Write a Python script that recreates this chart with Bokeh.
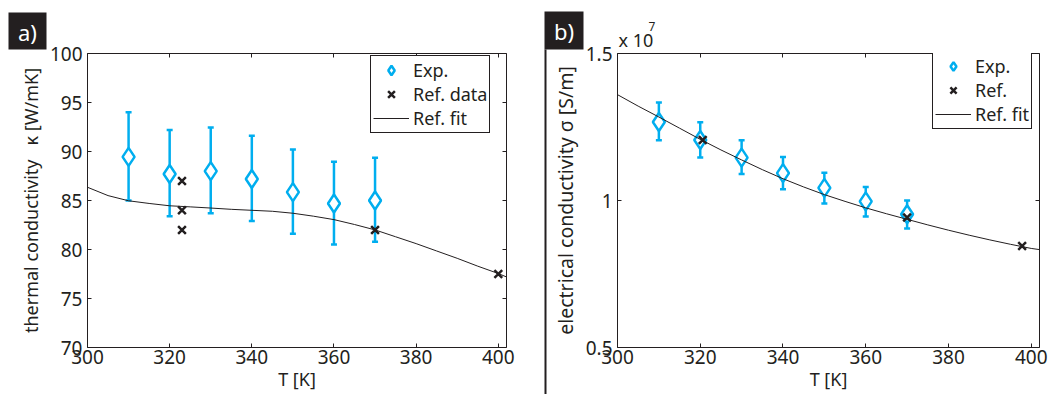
from bokeh.plotting import figure
from bokeh.models import (Range1d, FixedTicker, LinearAxis, Whisker, TeeHead, ColumnDataSource,
                          Legend, LegendItem, Label, BoxAnnotation, GridBox)
from bokeh.layouts import row
from bokeh.embed import file_html
from bokeh.resources import INLINE

# ---------------- data ----------------
T_exp = [310, 320, 330, 340, 350, 360, 370]

# panel a: thermal conductivity [W/mK]
kappa_exp = [89.45, 87.7, 88.0, 87.2, 85.85, 84.7, 85.0]
kappa_hi = [94.0, 92.2, 92.45, 91.6, 90.2, 88.95, 89.35]
kappa_lo = [85.0, 83.4, 83.7, 82.9, 81.6, 80.5, 80.8]
T_ref_a = [323, 323, 323, 370, 400]
kappa_ref = [87.0, 84.0, 82.0, 82.0, 77.5]
T_fit = [300, 305, 310, 315, 320, 325, 330, 335, 340, 345, 350,
         355, 360, 365, 370, 375, 380, 385, 390, 395, 400, 402]
kappa_fit = [86.35, 85.5, 84.97, 84.7, 84.46, 84.35, 84.23, 84.1, 84.0, 83.9, 83.7,
             83.4, 83.05, 82.55, 82.0, 81.3, 80.6, 79.85, 79.1, 78.3, 77.55, 77.2]

# panel b: electrical conductivity [x 10^7 S/m]
sigma_exp = [1.267, 1.206, 1.146, 1.093, 1.043, 0.997, 0.953]
sigma_hi = [1.333, 1.266, 1.205, 1.148, 1.094, 1.046, 1.000]
sigma_lo = [1.205, 1.146, 1.090, 1.038, 0.990, 0.946, 0.905]
T_ref_b = [320.6, 370, 397.8]
sigma_ref = [1.206, 0.942, 0.845]
sigma_fit = [1.360, 1.321, 1.284, 1.246, 1.208, 1.172, 1.138, 1.105, 1.074, 1.046, 1.020,
             0.997, 0.975, 0.955, 0.936, 0.917, 0.899, 0.882, 0.866, 0.851, 0.837, 0.833]

x_ticks = [300, 320, 340, 360, 380, 400]
ya_ticks = [70, 75, 80, 85, 90, 95, 100]
yb_ticks = [0.5, 1, 1.5]
yb_tick_labels = {0.5: "0.5", 1: "1", 1.5: "1.5"}

# ---------------- style ----------------
FONT = "Noto Sans"
DARK = "#231f20"
CYAN = "#00aeef"
FS = "19px"


def style_axis(ax, ticks, labels=True):
    ax.ticker = FixedTicker(ticks=ticks, minor_ticks=[])
    ax.major_tick_in = 4
    ax.major_tick_out = 0
    ax.minor_tick_in = 0
    ax.minor_tick_out = 0
    ax.axis_line_color = DARK
    ax.axis_line_width = 1
    ax.major_tick_line_color = DARK
    ax.major_label_text_font = FONT
    ax.axis_label_text_font = FONT
    ax.axis_label_text_color = DARK
    ax.axis_label_text_font_style = "normal"
    ax.axis_label_text_font_size = "18px"
    if labels:
        ax.major_label_text_font_size = FS
        ax.major_label_text_color = DARK
        ax.major_label_standoff = 2
    else:
        # mirror axis: ticks only, labels are not painted
        ax.major_label_text_font_size = "1px"
        ax.major_label_text_color = None
        ax.major_label_text_alpha = 0
        ax.major_label_standoff = 0


def make_fig(width, left, right, top, bottom, y_range, y_ticks, ylabel, ylabel_size):
    p = figure(width=width, height=394, output_backend="svg", toolbar_location=None,
               x_range=Range1d(300, 402), y_range=y_range,
               min_border_left=left, min_border_right=right,
               min_border_top=top, min_border_bottom=bottom)
    p.title.visible = False
    p.xgrid.visible = False
    p.ygrid.visible = False
    p.outline_line_color = None
    p.background_fill_color = "white"
    p.border_fill_color = "white"
    p.add_layout(LinearAxis(), "above")
    p.add_layout(LinearAxis(), "right")
    style_axis(p.below[0], x_ticks)
    style_axis(p.left[0], y_ticks)
    style_axis(p.above[0], x_ticks, labels=False)
    style_axis(p.right[0], y_ticks, labels=False)
    p.left[0].major_label_standoff = 5
    p.below[0].axis_label = "T [K]"
    p.below[0].axis_label_standoff = 0
    p.left[0].axis_label = ylabel
    p.left[0].axis_label_standoff = 4
    p.left[0].axis_label_text_font_size = ylabel_size
    return p


def add_series(p, T, val, lo, hi, Tr, vr, Tf, vf):
    src = ColumnDataSource(dict(T=T, v=val, lo=lo, hi=hi))
    w = Whisker(source=src, base="T", upper="hi", lower="lo",
                line_color=CYAN, line_width=2.5,
                upper_head=TeeHead(size=6, line_color=CYAN, line_width=2.5),
                lower_head=TeeHead(size=6, line_color=CYAN, line_width=2.5))
    p.add_layout(w)
    r_exp = p.scatter("T", "v", source=src, marker="diamond", size=18,
                      fill_color="white", line_color=CYAN, line_width=2.5)
    r_fit = p.line(Tf, vf, line_color=DARK, line_width=1)
    r_ref = p.scatter(Tr, vr, marker="x", size=11, line_color=DARK, line_width=2.5)
    return r_exp, r_ref, r_fit


def add_legend(p, rs, labels, loc, item_h, pad):
    items = [LegendItem(label=l, renderers=[r]) for l, r in zip(labels, rs)]
    lg = Legend(items=items, location=loc, orientation="vertical",
                glyph_width=36, glyph_height=item_h, label_height=item_h, spacing=0,
                padding=pad, margin=0, label_standoff=4,
                label_text_font=FONT, label_text_font_size="18px", label_text_color=DARK,
                border_line_color=DARK, border_line_width=1, border_line_alpha=1,
                background_fill_color="white", background_fill_alpha=1)
    p.add_layout(lg)


# ---------------- panel a ----------------
pa = make_fig(530, 87, 24, 51, 47, Range1d(70, 100), ya_ticks,
              "thermal conductivity \u00a0\u00a0\u03ba [W/mK]", "18px")
ra = add_series(pa, T_exp, kappa_exp, kappa_lo, kappa_hi, T_ref_a, kappa_ref, T_fit, kappa_fit)
add_legend(pa, ra, ["Exp.", "Ref. data", "Ref. fit"], (283, 214), 24, 2)

# ---------------- panel b ----------------
pb = make_fig(519, 87, 10, 53, 45, Range1d(0.5, 1.5), yb_ticks,
              "electrical conductivity \u03c3 [S/m]", "19.5px")
pb.left[0].major_label_overrides = yb_tick_labels
rb = add_series(pb, T_exp, sigma_exp, sigma_lo, sigma_hi, T_ref_b, sigma_ref, T_fit, sigma_fit)
add_legend(pb, rb, ["Exp.", "Ref.", "Ref. fit"], (315, 218), 22, 2)

# ---------------- page overlay: panel tags, separator, exponent ----------------
H = 394
ov = figure(width=1049, height=H, output_backend="svg", toolbar_location=None,
            x_axis_type=None, y_axis_type=None, min_border=0)
ov.title.visible = False
ov.outline_line_color = None
ov.background_fill_color = None
ov.border_fill_color = None


def box(left, right, top, bottom):
    # pixel edges measured from the page's top-left corner
    ov.add_layout(BoxAnnotation(left=left, right=right, top=H - top, bottom=H - bottom,
                                left_units="screen", right_units="screen",
                                top_units="screen", bottom_units="screen",
                                fill_color=DARK, fill_alpha=1, line_color=None))


def text(x, y, s, size, color=DARK, align="left", baseline="alphabetic"):
    ov.add_layout(Label(x=x, y=H - y, x_units="screen", y_units="screen", text=s,
                        text_align=align, text_baseline=baseline, text_color=color,
                        text_font=FONT, text_font_size=size))


box(8, 46, 12, 49)
text(27, 31, "a)", "22px", "white", "center", "middle")
box(544, 583, 11, 49)
box(544, 546, 49, 394)
text(563.5, 30, "b)", "22px", "white", "center", "middle")
text(618, 39, "x 10", "18px")
text(648, 26, "7", "12px")

grid = GridBox(children=[(row(pa, pb), 0, 0), (ov, 0, 0)])
open("out.html", "w").write(file_html(grid, INLINE))
